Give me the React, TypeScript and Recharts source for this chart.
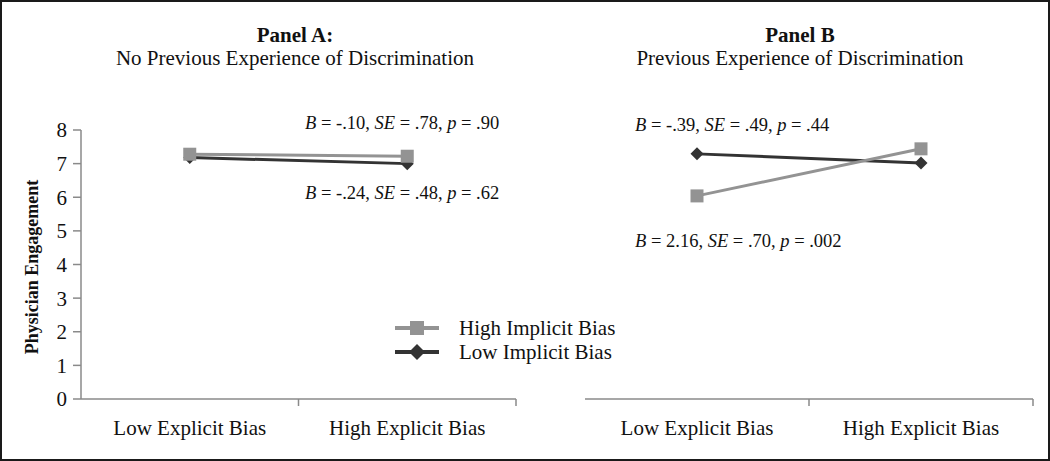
import React from 'react';
import { LineChart, Line, XAxis, YAxis, Legend } from 'recharts';

const categories = ['Low Explicit Bias', 'High Explicit Bias'];
const panelAHigh = [7.28, 7.22];
const panelALow = [7.18, 7.0];
const panelBHigh = [6.04, 7.44];
const panelBLow = [7.29, 7.02];
const yTicks = [0, 1, 2, 3, 4, 5, 6, 7, 8];
const seriesNames = { high: 'High Implicit Bias', low: 'Low Implicit Bias' };

const FONT = '"Liberation Serif", "Times New Roman", serif';
const HIGH_COLOR = '#939393';
const LOW_COLOR = '#333333';
const AXIS_COLOR = '#8a8a8a';

const buildData = (high: number[], low: number[]) =>
  categories.map((name, i) => ({ x: i + 0.5, name, high: high[i], low: low[i] }));

const dataA = buildData(panelAHigh, panelALow);
const dataB = buildData(panelBHigh, panelBLow);

const SquareDot = (props: any) => {
  const { cx, cy } = props;
  if (cx == null || cy == null) return null;
  return <rect x={cx - 6.5} y={cy - 6.5} width={13} height={13} fill={HIGH_COLOR} />;
};

const DiamondDot = (props: any) => {
  const { cx, cy } = props;
  if (cx == null || cy == null) return null;
  const r = 6.5;
  return (
    <polygon
      points={`${cx},${cy - r} ${cx + r},${cy} ${cx},${cy + r} ${cx - r},${cy}`}
      fill={LOW_COLOR}
    />
  );
};

const XTick = (props: any) => {
  const { x, y, payload } = props;
  const v = payload.value;
  if (Number.isInteger(v)) {
    if (v === 0) return null;
    return <line x1={x} y1={y} x2={x} y2={y + 7} stroke={AXIS_COLOR} strokeWidth={1.5} />;
  }
  return (
    <text x={x} y={y + 29} textAnchor="middle" dominantBaseline="central" fontSize={21} fill="#111" fontFamily={FONT}>
      {categories[Math.floor(v)]}
    </text>
  );
};

const renderLegend = () => (
  <div style={{ fontFamily: FONT, fontSize: 21, color: '#111', lineHeight: '24px', whiteSpace: 'nowrap', width: 240 }}>
    {[
      { name: seriesNames.high, color: HIGH_COLOR, shape: 'square' },
      { name: seriesNames.low, color: LOW_COLOR, shape: 'diamond' },
    ].map((item) => (
      <div key={item.name} style={{ display: 'flex', alignItems: 'center' }}>
        <svg width={48} height={20} style={{ marginRight: 18, flexShrink: 0 }}>
          <line x1={2} y1={10} x2={46} y2={10} stroke={item.color} strokeWidth={4} />
          {item.shape === 'square' ? (
            <rect x={17} y={3} width={14} height={14} fill={item.color} />
          ) : (
            <polygon points="24,2 32,10 24,18 16,10" fill={item.color} />
          )}
        </svg>
        <span>{item.name}</span>
      </div>
    ))}
  </div>
);

const Note = ({ left, top, b, se, p }: { left: number; top: number; b: string; se: string; p: string }) => (
  <div style={{ position: 'absolute', left, top, fontFamily: FONT, fontSize: 18.5, color: '#111', whiteSpace: 'nowrap' }}>
    <i>B</i> = {b}, <i>SE</i> = {se}, <i>p</i> = {p}
  </div>
);

const Title = ({ cx, top, bold, sub }: { cx: number; top: number; bold: string; sub: string }) => (
  <div
    style={{
      position: 'absolute',
      left: cx - 250,
      top,
      width: 500,
      textAlign: 'center',
      fontFamily: FONT,
      fontSize: 21,
      lineHeight: '23px',
      color: '#111',
    }}
  >
    <div style={{ fontWeight: 'bold' }}>{bold}</div>
    <div>{sub}</div>
  </div>
);

export default function App() {
  const xAxisProps = {
    type: 'number' as const,
    dataKey: 'x',
    domain: [0, 2],
    ticks: [0, 0.5, 1, 1.5, 2],
    tick: <XTick />,
    tickLine: false,
    tickSize: 0,
    tickMargin: 0,
    height: 40,
    interval: 0 as const,
    axisLine: { stroke: AXIS_COLOR, strokeWidth: 1.5 },
  };

  return (
    <div
      style={{
        position: 'absolute',
        left: 0,
        top: 0,
        width: 1050,
        height: 461,
        boxSizing: 'border-box',
        border: '2px solid #1a1a1a',
        background: '#fff',
        overflow: 'hidden',
      }}
    >
      <Title cx={293} top={22} bold="Panel A:" sub="No Previous Experience of Discrimination" />
      <Title cx={798} top={22} bold="Panel B" sub="Previous Experience of Discrimination" />

      <div
        style={{
          position: 'absolute',
          left: 30,
          top: 265,
          transform: 'translate(-50%, -50%) rotate(-90deg)',
          fontFamily: FONT,
          fontSize: 18,
          fontWeight: 'bold',
          whiteSpace: 'nowrap',
          color: '#111',
        }}
      >
        Physician Engagement
      </div>

      <div style={{ position: 'absolute', left: -2, top: 98 }}>
        <LineChart width={540} height={360} data={dataA} margin={{ top: 30, right: 24, bottom: 21, left: 40 }}>
          <XAxis {...xAxisProps} />
          <YAxis
            domain={[0, 8]}
            ticks={yTicks}
            interval={0}
            width={41}
            tickSize={8}
            tickMargin={6}
            axisLine={{ stroke: AXIS_COLOR, strokeWidth: 1.5 }}
            tickLine={{ stroke: AXIS_COLOR, strokeWidth: 1.5 }}
            tick={{ fill: '#111', fontSize: 21, fontFamily: FONT }}
          />
          <Legend
            layout="vertical"
            align="center"
            verticalAlign="middle"
            content={renderLegend}
            wrapperStyle={{ position: 'absolute', left: 393, top: 216, width: 240 }}
          />
          <Line dataKey="low" name={seriesNames.low} stroke={LOW_COLOR} strokeWidth={3} dot={<DiamondDot />} isAnimationActive={false} legendType="none" />
          <Line dataKey="high" name={seriesNames.high} stroke={HIGH_COLOR} strokeWidth={3} dot={<SquareDot />} isAnimationActive={false} legendType="none" />
        </LineChart>
      </div>

      <div style={{ position: 'absolute', left: 558, top: 98 }}>
        <LineChart width={490} height={360} data={dataB} margin={{ top: 30, right: 17, bottom: 21, left: 25 }}>
          <XAxis {...xAxisProps} />
          <YAxis hide domain={[0, 8]} ticks={yTicks} width={0} />
          <Line dataKey="low" name={seriesNames.low} stroke={LOW_COLOR} strokeWidth={3} dot={<DiamondDot />} isAnimationActive={false} />
          <Line dataKey="high" name={seriesNames.high} stroke={HIGH_COLOR} strokeWidth={3} dot={<SquareDot />} isAnimationActive={false} />
        </LineChart>
      </div>

      <Note left={303} top={111} b="-.10" se=".78" p=".90" />
      <Note left={303} top={181} b="-.24" se=".48" p=".62" />
      <Note left={633} top={113} b="-.39" se=".49" p=".44" />
      <Note left={633} top={229} b="2.16" se=".70" p=".002" />
    </div>
  );
}
